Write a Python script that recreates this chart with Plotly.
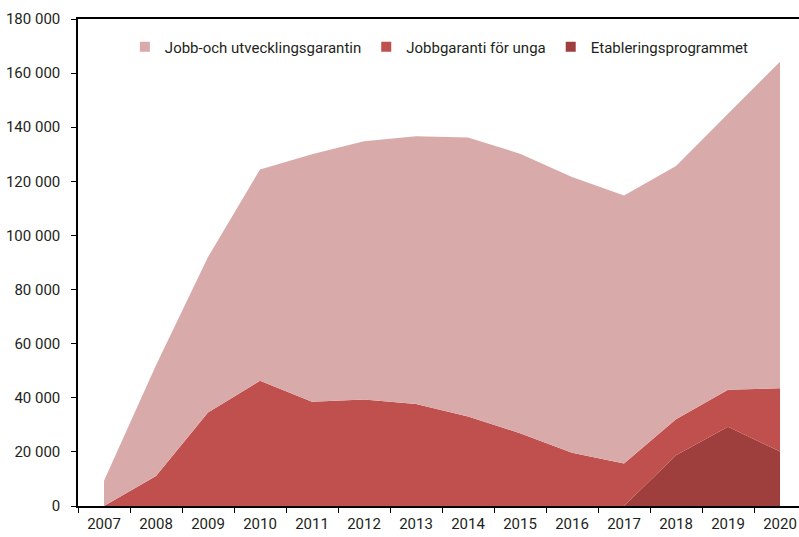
import plotly.graph_objects as go

# Data
years = [str(y) for y in range(2007, 2021)]
etablering = [0, 0, 0, 0, 0, 0, 0, 0, 0, 0, 0, 18800, 29300, 20100]
jobbgaranti_unga = [0, 11100, 34600, 46300, 38500, 39400, 37700, 33100,
                    26900, 19700, 15700, 13300, 13700, 23400]
jobb_och_utveckling = [9300, 40900, 57400, 78100, 91500, 95400, 99000, 103100,
                       103300, 101900, 99100, 93600, 102000, 120700]

names = ["Jobb-och utvecklingsgarantin", "Jobbgaranti för unga", "Etableringsprogrammet"]
colors = {"Jobb-och utvecklingsgarantin": "#D9AAAA",
          "Jobbgaranti för unga": "#C0504D",
          "Etableringsprogrammet": "#9E3F3D"}

font_family = "Roboto, Liberation Sans Narrow, sans-serif"
text_color = "#231F20"

fig = go.Figure()

# stacked areas, bottom first
for name, vals in [("Etableringsprogrammet", etablering),
                   ("Jobbgaranti för unga", jobbgaranti_unga),
                   ("Jobb-och utvecklingsgarantin", jobb_och_utveckling)]:
    fig.add_trace(go.Scatter(
        x=years, y=vals, name=name, stackgroup="one", mode="lines",
        line=dict(width=0, color=colors[name]), fillcolor=colors[name],
        showlegend=False, hoverinfo="x+y+name",
    ))

# legend entries with small square keys
for name in names:
    fig.add_trace(go.Scatter(
        x=[None], y=[None], mode="markers", name=name,
        marker=dict(symbol="square", size=10, color=colors[name]),
    ))

fig.update_layout(
    width=799, height=537,
    margin=dict(l=78, r=0, t=19, b=31),
    paper_bgcolor="white", plot_bgcolor="white",
    font=dict(family=font_family, size=15, color=text_color),
    separators=", ",
    legend=dict(orientation="h", x=0.065, y=0.9425, xanchor="left", yanchor="middle",
                bgcolor="rgba(0,0,0,0)", font=dict(size=15), itemwidth=30,
                traceorder="normal"),
)

fig.update_xaxes(
    type="category", range=[-0.5, 13.365], automargin=False,
    showline=True, linecolor="black", linewidth=1.5, mirror=True,
    ticks="outside", ticklen=5, tickcolor="black", tickwidth=1.2,
    tickson="boundaries", showgrid=False, zeroline=False,
    ticklabelstandoff=3,
)
fig.update_yaxes(
    range=[0, 180000], dtick=20000, tickformat=",d", automargin=False,
    showline=True, linecolor="black", linewidth=1.5,
    ticks="outside", ticklen=5, tickcolor="black", tickwidth=1.2,
    ticklabelstandoff=8, showgrid=False, zeroline=False,
)

# drop the browser's default 8px body margin so the figure sits at the page corner
fig.write_html("out.html", config={"displayModeBar": False},
               post_script="document.body.style.margin='0';")
